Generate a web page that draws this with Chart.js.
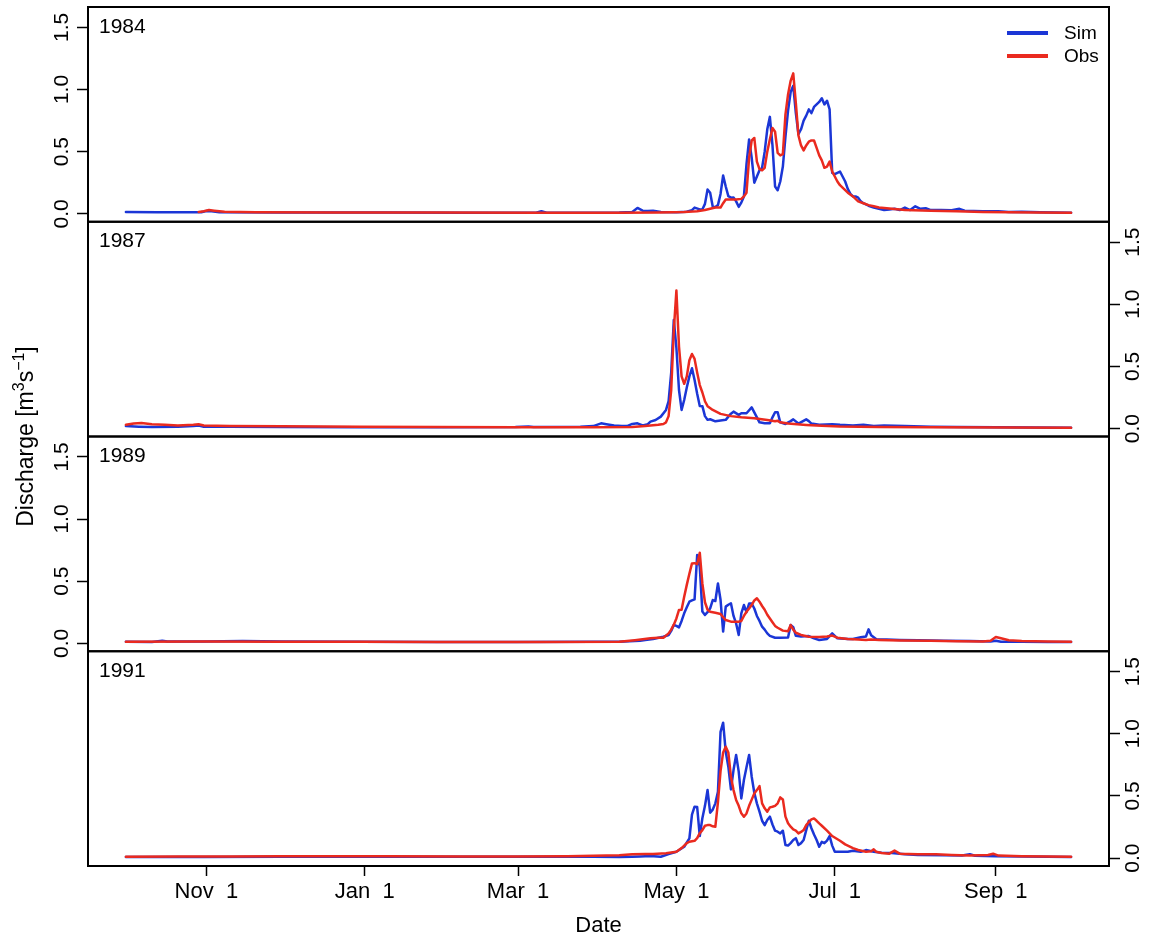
<!DOCTYPE html>
<html><head><meta charset="utf-8">
<script src="https://cdn.jsdelivr.net/npm/chart.js@4.4.1/dist/chart.umd.min.js"></script>
<style>
html,body{margin:0;padding:0;background:#fff;}
#wrap{position:relative;width:1151px;height:943px;overflow:hidden;background:#fff;}
canvas{position:absolute;left:0;top:0;}
</style></head><body><div id="wrap">
<canvas id="c0" width="1151" height="943"></canvas>
<canvas id="c1" width="1151" height="943"></canvas>
<canvas id="c2" width="1151" height="943"></canvas>
<canvas id="c3" width="1151" height="943"></canvas>
</div>
<script>
// ---- data (day index from Oct 1, discharge m3/s) ----
const dateTickDays = [31, 92, 151, 212, 273, 335];
const dateTickLabels = ['Nov  1', 'Jan  1', 'Mar  1', 'May  1', 'Jul  1', 'Sep  1'];
const yTickValues = [0, 0.5, 1.0, 1.5];
const years = ['1984', '1987', '1989', '1991'];
const seriesNames = ['Sim', 'Obs'];

const sim1984 = [[0,.015],[12,.013],[25,.012],[29,.012],[31,.022],[33,.02],[36,.012],[60,.011],[100,.01],[130,.009],[158,.008],[160,.02],[162,.008],[190,.01],[195,.015],[197,.047],[199,.025],[201,.022],[203,.024],[206,.014],[212,.013],[216,.016],[218,.03],[219,.05],[221,.035],[222,.035],[223,.08],[224,.196],[225,.17],[226,.056],[227,.055],[228,.07],[229,.16],[230,.308],[231,.22],[232,.142],[233,.13],[234,.131],[235,.1],[236,.056],[237,.09],[238,.14],[239,.4],[240,.598],[241,.45],[242,.25],[243,.3],[244,.35],[245,.37],[246,.5],[247,.68],[248,.78],[249,.55],[250,.22],[251,.19],[252,.26],[253,.38],[254,.62],[255,.83],[256,.98],[257,1.03],[258,.81],[259,.64],[260,.68],[261,.75],[262,.79],[263,.84],[264,.81],[265,.86],[266,.88],[267,.9],[268,.93],[269,.88],[270,.91],[271,.84],[272,.33],[273,.32],[274,.33],[275,.34],[276,.3],[277,.26],[278,.2],[279,.16],[280,.14],[281,.14],[282,.13],[283,.1],[284,.085],[285,.075],[286,.065],[288,.05],[290,.04],[292,.03],[294,.035],[296,.04],[298,.03],[300,.05],[302,.03],[304,.06],[306,.04],[308,.045],[310,.03],[314,.03],[318,.028],[321,.04],[323,.025],[330,.02],[336,.02],[340,.015],[345,.016],[352,.012],[358,.01],[364,.008]];
const obs1984 = [[28,.015],[30,.02],[32,.03],[34,.025],[38,.016],[50,.013],[80,.011],[120,.01],[160,.008],[190,.008],[205,.01],[215,.015],[220,.02],[223,.03],[225,.04],[227,.05],[229,.05],[230,.085],[231,.115],[233,.115],[235,.115],[237,.12],[238,.14],[239,.17],[240,.45],[241,.59],[242,.61],[243,.42],[244,.36],[245,.35],[246,.37],[247,.5],[248,.6],[249,.69],[250,.66],[251,.49],[252,.47],[253,.48],[254,.8],[255,.96],[256,1.07],[257,1.13],[258,.89],[259,.63],[260,.55],[261,.51],[262,.55],[263,.58],[264,.59],[265,.59],[266,.53],[267,.47],[268,.43],[269,.37],[270,.38],[271,.42],[272,.34],[273,.3],[274,.26],[275,.23],[276,.21],[277,.19],[278,.17],[280,.14],[282,.1],[284,.085],[286,.07],[288,.06],[290,.05],[295,.04],[300,.03],[310,.025],[320,.02],[330,.015],[340,.012],[350,.01],[364,.008]];

const sim1987 = [[0,.02],[5,.015],[10,.012],[20,.015],[26,.02],[28,.025],[30,.015],[40,.014],[60,.012],[90,.01],[120,.01],[150,.012],[155,.016],[157,.012],[175,.015],[180,.02],[183,.042],[185,.035],[188,.025],[191,.02],[193,.02],[195,.037],[197,.042],[199,.025],[201,.035],[202,.056],[204,.069],[206,.096],[208,.15],[209,.22],[210,.45],[211,.874],[212,.65],[213,.31],[214,.15],[215,.23],[216,.33],[217,.42],[218,.485],[219,.39],[220,.28],[221,.182],[222,.18],[223,.1],[224,.07],[225,.075],[227,.058],[229,.065],[231,.07],[233,.12],[234,.136],[236,.11],[237,.123],[239,.123],[241,.17],[242,.13],[244,.05],[246,.043],[248,.043],[249,.09],[250,.131],[251,.131],[252,.05],[254,.037],[256,.06],[257,.074],[259,.04],[262,.074],[263,.06],[264,.04],[267,.03],[272,.035],[275,.03],[280,.025],[284,.03],[288,.02],[292,.025],[300,.02],[310,.015],[320,.012],[335,.01],[350,.008],[364,.006]];
const obs1987 = [[0,.03],[3,.04],[6,.045],[10,.035],[15,.03],[20,.025],[26,.03],[28,.035],[30,.025],[40,.02],[60,.018],[90,.015],[120,.012],[150,.01],[180,.01],[195,.012],[200,.02],[205,.03],[207,.037],[208,.05],[209,.1],[210,.31],[211,.79],[212,1.11],[213,.66],[214,.42],[215,.36],[216,.42],[217,.55],[218,.6],[219,.56],[220,.45],[221,.35],[222,.29],[223,.22],[224,.18],[226,.15],[229,.118],[233,.1],[237,.09],[242,.083],[247,.069],[250,.058],[251,.062],[252,.05],[255,.04],[262,.029],[268,.022],[275,.016],[290,.012],[310,.01],[340,.008],[364,.006]];

const sim1989 = [[0,.012],[10,.01],[14,.02],[16,.015],[30,.015],[45,.018],[60,.015],[90,.012],[120,.01],[150,.01],[180,.012],[190,.013],[198,.02],[200,.027],[203,.035],[207,.053],[209,.067],[210,.1],[211,.147],[212,.14],[213,.128],[214,.18],[215,.241],[216,.29],[217,.335],[218,.345],[219,.354],[220,.71],[221,.616],[222,.255],[223,.228],[224,.25],[225,.281],[226,.348],[227,.34],[228,.482],[229,.35],[230,.094],[231,.295],[232,.31],[233,.322],[234,.22],[235,.16],[236,.067],[237,.24],[238,.308],[239,.25],[240,.32],[241,.32],[242,.28],[243,.22],[244,.18],[245,.134],[246,.11],[247,.08],[248,.06],[250,.045],[252,.045],[255,.047],[256,.147],[257,.13],[258,.06],[260,.055],[263,.058],[265,.04],[267,.027],[270,.035],[272,.08],[274,.04],[278,.035],[280,.034],[283,.048],[285,.055],[286,.112],[287,.065],[289,.032],[293,.03],[298,.027],[305,.025],[315,.02],[325,.018],[333,.015],[335,.02],[337,.012],[345,.012],[355,.01],[364,.01]];
const obs1989 = [[0,.012],[30,.014],[60,.013],[90,.012],[120,.01],[160,.01],[190,.012],[196,.025],[202,.04],[205,.045],[207,.045],[209,.08],[210,.11],[211,.15],[212,.2],[213,.268],[214,.27],[215,.375],[216,.47],[217,.56],[218,.643],[219,.645],[220,.638],[221,.729],[222,.482],[223,.33],[224,.27],[225,.254],[227,.246],[229,.236],[230,.21],[231,.187],[233,.174],[236,.174],[237,.18],[238,.22],[239,.254],[240,.28],[241,.308],[242,.345],[243,.362],[244,.335],[245,.3],[246,.27],[247,.23],[248,.2],[249,.17],[250,.14],[251,.125],[253,.102],[255,.097],[256,.147],[257,.11],[258,.085],[260,.067],[263,.053],[267,.05],[270,.055],[272,.062],[274,.045],[278,.035],[282,.03],[285,.027],[287,.03],[290,.027],[298,.022],[310,.02],[320,.017],[330,.015],[333,.02],[335,.05],[337,.04],[340,.025],[345,.018],[355,.015],[364,.012]];

const sim1991 = [[0,.008],[30,.008],[60,.01],[100,.01],[150,.01],[180,.01],[190,.008],[195,.01],[198,.012],[202,.016],[206,.01],[209,.032],[212,.051],[215,.091],[217,.158],[218,.35],[219,.413],[220,.41],[221,.177],[222,.32],[223,.42],[224,.547],[225,.365],[226,.39],[227,.44],[228,.534],[229,1.016],[230,1.089],[231,.855],[232,.735],[233,.552],[234,.708],[235,.829],[236,.695],[237,.48],[238,.628],[239,.73],[240,.829],[241,.654],[242,.526],[243,.44],[244,.373],[245,.3],[246,.265],[247,.306],[248,.333],[249,.27],[250,.22],[251,.212],[252,.198],[253,.22],[254,.105],[255,.1],[256,.12],[257,.145],[258,.16],[259,.105],[260,.12],[261,.145],[262,.225],[263,.3],[264,.24],[265,.19],[266,.145],[267,.091],[268,.13],[269,.12],[270,.14],[271,.177],[272,.1],[273,.051],[275,.05],[278,.05],[280,.059],[283,.05],[285,.064],[288,.05],[291,.043],[295,.04],[300,.03],[305,.025],[315,.022],[322,.02],[325,.03],[327,.018],[335,.015],[345,.012],[355,.01],[364,.008]];
const obs1991 = [[0,.01],[20,.012],[40,.012],[60,.014],[100,.014],[130,.013],[150,.012],[170,.015],[180,.018],[190,.022],[195,.03],[200,.032],[203,.032],[208,.038],[212,.05],[214,.08],[216,.12],[217,.131],[219,.139],[220,.16],[221,.2],[222,.225],[223,.26],[224,.265],[225,.265],[226,.255],[227,.252],[228,.45],[229,.7],[230,.85],[231,.896],[232,.85],[233,.654],[234,.547],[235,.467],[236,.42],[237,.36],[238,.333],[239,.359],[240,.42],[241,.47],[242,.52],[243,.547],[244,.579],[245,.44],[246,.4],[247,.373],[248,.408],[249,.413],[250,.42],[251,.44],[252,.488],[253,.472],[254,.333],[255,.28],[256,.252],[257,.23],[258,.22],[259,.198],[260,.21],[261,.225],[262,.265],[263,.29],[264,.311],[265,.319],[266,.3],[267,.279],[268,.26],[270,.22],[272,.177],[275,.139],[277,.11],[280,.08],[282,.065],[285,.051],[287,.055],[288,.07],[289,.05],[291,.04],[294,.035],[296,.06],[298,.035],[305,.03],[312,.03],[318,.025],[325,.02],[332,.025],[334,.035],[336,.02],[345,.015],[355,.012],[364,.01]];

const simSeries = [sim1984, sim1987, sim1989, sim1991];
const obsSeries = [obs1984, obs1987, obs1989, obs1991];

// ---- styling / layout ----
const FONT = '"Liberation Sans", Arial, Helvetica, sans-serif';
const SIM_COLOR = '#1b36d6';
const OBS_COLOR = '#ea2a1f';
const W = 1151, H = 943;
const AREA_LEFT = 88, AREA_RIGHT = 1109;
const PANEL_TOPS = [7, 221.75, 436.5, 651.25];
const LAST_BOTTOM = 866;

Chart.defaults.font.family = FONT;
Chart.defaults.color = '#000';

const boxPlugin = {
  id: 'panelBox',
  afterDatasetsDraw(chart) {
    const {ctx, chartArea: a} = chart;
    ctx.save();
    ctx.strokeStyle = '#000';
    ctx.lineWidth = 2;
    ctx.strokeRect(a.left, a.top, a.right - a.left, a.bottom - a.top);
    ctx.restore();
  }
};

const annotPlugin = {
  id: 'annot',
  afterDraw(chart, args, opts) {
    const {ctx, chartArea: a} = chart;
    ctx.save();
    ctx.fillStyle = '#000';
    ctx.font = '21px ' + FONT;
    ctx.textAlign = 'left';
    ctx.textBaseline = 'alphabetic';
    ctx.fillText(opts.year, a.left + 11, a.top + 25.5);
    if (opts.legend) {
      const items = [[seriesNames[0], SIM_COLOR, 33], [seriesNames[1], OBS_COLOR, 56]];
      ctx.font = '19px ' + FONT;
      ctx.textBaseline = 'middle';
      items.forEach(([name, col, y]) => {
        ctx.strokeStyle = col;
        ctx.lineWidth = 4;
        ctx.beginPath();
        ctx.moveTo(1007, y);
        ctx.lineTo(1048, y);
        ctx.stroke();
        ctx.fillStyle = '#000';
        ctx.fillText(name, 1064, y + 1);
      });
    }
    if (opts.yTitle) {
      const parts = [
        {t: 'Discharge [m', s: 23, dy: 0},
        {t: '3', s: 16, dy: -8.5},
        {t: 's', s: 23, dy: 0},
        {t: '\u22121', s: 16, dy: -8.5},
        {t: ']', s: 23, dy: 0}
      ];
      let total = 0;
      parts.forEach(p => { ctx.font = p.s + 'px ' + FONT; p.w = ctx.measureText(p.t).width; total += p.w; });
      ctx.translate(32.5, (PANEL_TOPS[0] + LAST_BOTTOM) / 2);
      ctx.rotate(-Math.PI / 2);
      ctx.textBaseline = 'alphabetic';
      ctx.textAlign = 'left';
      let x = -total / 2;
      parts.forEach(p => { ctx.font = p.s + 'px ' + FONT; ctx.fillText(p.t, x, p.dy); x += p.w; });
    }
    ctx.restore();
  }
};

function toPoints(arr) { return arr.map(([d, v]) => ({x: d, y: v})); }

function makePanel(k) {
  const top = PANEL_TOPS[k];
  const bottom = k < 3 ? PANEL_TOPS[k + 1] : LAST_BOTTOM;
  const axisLeft = (k % 2 === 0);
  const isLast = (k === 3);
  const yW = axisLeft ? 60 : 42;
  const xH = H - LAST_BOTTOM;
  const xScale = {
    type: 'linear', min: -14.6, max: 378.6, display: isLast,
    afterBuildTicks: s => { s.ticks = dateTickDays.map(v => ({value: v})); },
    afterFit: s => {
      s.paddingLeft = 0; s.paddingRight = 0; s.paddingTop = 0; s.paddingBottom = 0;
      if (isLast) s.height = xH;
    },
    ticks: {
      autoSkip: false, minRotation: 0, maxRotation: 0, padding: 3,
      font: {size: 22, family: FONT}, color: '#000',
      callback: v => { const i = dateTickDays.indexOf(v); return i >= 0 ? dateTickLabels[i] : ''; }
    },
    grid: {drawOnChartArea: false, drawTicks: true, tickLength: 10, tickColor: '#000', tickWidth: 1.5},
    border: {display: false},
    title: {display: true, text: 'Date', font: {size: 22, family: FONT}, color: '#000', padding: {top: 0, bottom: 4}}
  };
  const yScale = {
    type: 'linear', position: axisLeft ? 'left' : 'right', min: -0.064, max: 1.664,
    afterBuildTicks: s => { s.ticks = yTickValues.map(v => ({value: v})); },
    afterFit: s => {
      s.width = yW;
      s.paddingTop = 0; s.paddingBottom = 0; s.paddingLeft = 0; s.paddingRight = 0;
    },
    ticks: {
      minRotation: 90, maxRotation: 90, crossAlign: 'center', padding: axisLeft ? 0 : -1,
      font: {size: 21, family: FONT}, color: '#000',
      callback: v => Number(v).toFixed(1)
    },
    grid: {drawOnChartArea: false, drawTicks: true, tickLength: 11, tickColor: '#000', tickWidth: 1.5},
    border: {display: false}
  };
  const padding = {
    left: axisLeft ? AREA_LEFT - yW : AREA_LEFT,
    right: axisLeft ? W - AREA_RIGHT : W - AREA_RIGHT - yW,
    top: top,
    bottom: isLast ? 0 : H - bottom
  };
  return new Chart(document.getElementById('c' + k), {
    type: 'line',
    data: {
      datasets: [
        {label: seriesNames[0], data: toPoints(simSeries[k]), borderColor: SIM_COLOR, borderWidth: 2.5, pointRadius: 0, tension: 0, order: 1, borderJoinStyle: 'round', borderCapStyle: 'round'},
        {label: seriesNames[1], data: toPoints(obsSeries[k]), borderColor: OBS_COLOR, borderWidth: 2.5, pointRadius: 0, tension: 0, order: 0, borderJoinStyle: 'round', borderCapStyle: 'round'}
      ]
    },
    options: {
      responsive: false, animation: false, devicePixelRatio: 1, events: [],
      layout: {padding: padding, autoPadding: false},
      scales: {x: xScale, y: yScale},
      plugins: {
        legend: {display: false}, tooltip: {enabled: false},
        annot: {year: years[k], legend: k === 0, yTitle: k === 0}
      }
    },
    plugins: [boxPlugin, annotPlugin]
  });
}

for (let k = 0; k < 4; k++) makePanel(k);
</script>
</body></html>
